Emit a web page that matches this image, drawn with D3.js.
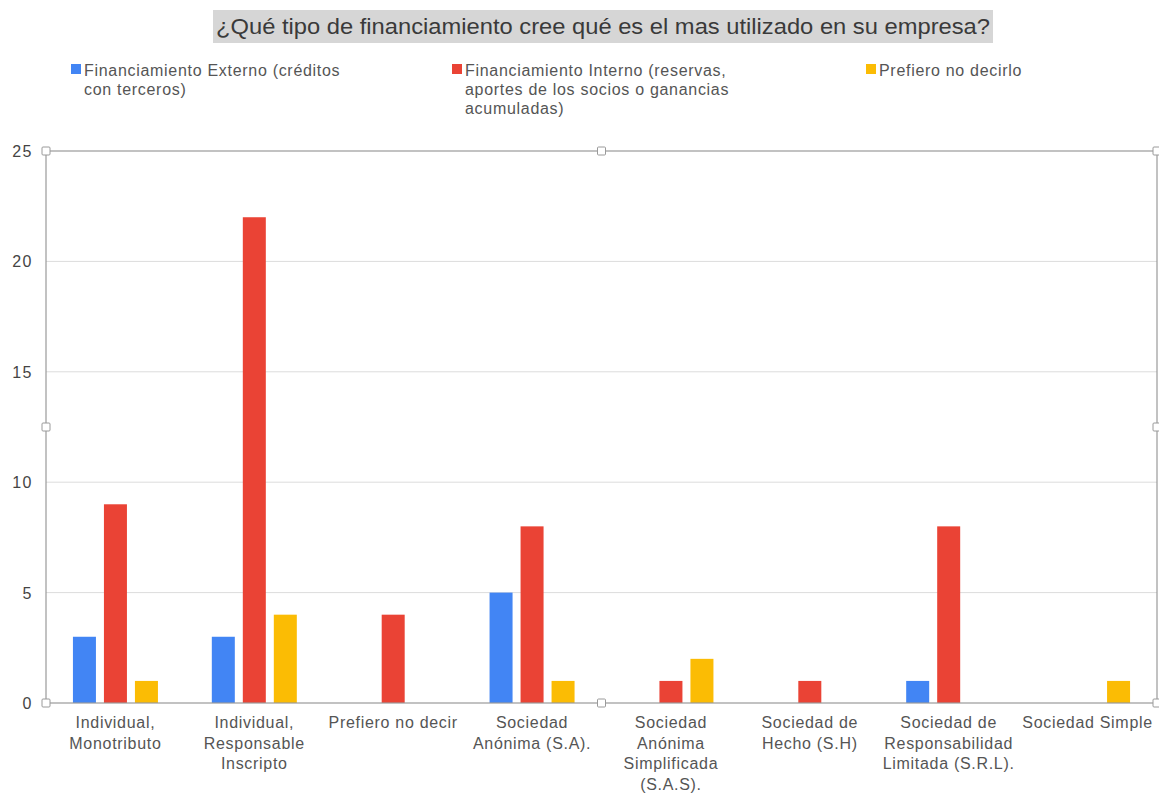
<!DOCTYPE html>
<html>
<head>
<meta charset="utf-8">
<script src="https://cdn.jsdelivr.net/npm/d3@7"></script>
<style>
  body { margin: 0; background: #fff; }
  svg { display: block; font-family: "Liberation Sans", Arial, sans-serif; }
</style>
</head>
<body>
<div id="chart"></div>
<script>
const categories = [
  ["Individual,", "Monotributo"],
  ["Individual,", "Responsable", "Inscripto"],
  ["Prefiero no decir"],
  ["Sociedad", "Anónima (S.A)."],
  ["Sociedad", "Anónima", "Simplificada", "(S.A.S)."],
  ["Sociedad de", "Hecho (S.H)"],
  ["Sociedad de", "Responsabilidad", "Limitada (S.R.L)."],
  ["Sociedad Simple"]
];
const seriesNames = [
  ["Financiamiento Externo (créditos", "con terceros)"],
  ["Financiamiento Interno (reservas,", "aportes de los socios o ganancias", "acumuladas)"],
  ["Prefiero no decirlo"]
];
const externo = [3, 3, 0, 5, 0, 0, 1, 0];
const interno = [9, 22, 4, 8, 1, 1, 8, 0];
const prefiero = [1, 4, 0, 1, 2, 0, 0, 1];
const yTicks = [0, 5, 10, 15, 20, 25];
const colors = ["#4285f4", "#ea4335", "#fbbc04"];

const W = 1159, H = 793;
const plotL = 46, plotR = 1157, plotT = 151, plotB = 703;

const svg = d3.select("#chart").append("svg")
  .attr("width", W).attr("height", H);

// title
const titleG = svg.append("g");
titleG.append("rect")
  .attr("x", 213).attr("y", 10).attr("width", 780).attr("height", 33)
  .attr("fill", "#d6d6d6");
titleG.append("text")
  .attr("x", 603).attr("y", 34)
  .attr("text-anchor", "middle")
  .attr("font-size", 22)
  .attr("fill", "#3a3a3a")
  .attr("textLength", 774).attr("lengthAdjust", "spacingAndGlyphs")
  .text("¿Qué tipo de financiamiento cree qué es el mas utilizado en su empresa?");

// legend
const legendX = [71, 452, 866];
const legend = svg.append("g").selectAll("g").data(seriesNames).enter().append("g")
  .attr("transform", (d, i) => `translate(${legendX[i]}, 64)`);
legend.append("rect").attr("width", 10).attr("height", 10)
  .attr("fill", (d, i) => colors[i]);
legend.append("text")
  .attr("font-size", 16).attr("fill", "#555")
  .attr("letter-spacing", 0.7)
  .selectAll("tspan").data(d => d).enter().append("tspan")
  .attr("x", 13).attr("y", (d, i) => 12 + i * 19)
  .text(d => d);

// scales
const y = d3.scaleLinear().domain([0, 25]).range([plotB, plotT]);
const x0 = d3.scaleBand().domain(d3.range(categories.length)).range([plotL, plotR]);
const barW = 23, gap = 8;

// gridlines
svg.append("g").selectAll("line").data(yTicks.filter(t => t > 0 && t < 25)).enter()
  .append("line")
  .attr("x1", plotL).attr("x2", plotR)
  .attr("y1", d => y(d)).attr("y2", d => y(d))
  .attr("stroke", "#dcdcdc");

// y tick labels
svg.append("g").selectAll("text").data(yTicks).enter().append("text")
  .attr("x", 33).attr("y", d => y(d) + 6)
  .attr("text-anchor", "end")
  .attr("font-size", 16).attr("fill", "#444")
  .attr("letter-spacing", 1.5)
  .text(d => d);

// bars
const data = [externo, interno, prefiero];
const groups = svg.append("g");
data.forEach((vals, s) => {
  groups.append("g").selectAll("rect").data(vals).enter().append("rect")
    .attr("x", (d, i) => x0(i) + x0.bandwidth() / 2 + (s - 1) * (barW + gap) - barW / 2)
    .attr("y", d => y(d))
    .attr("width", barW)
    .attr("height", d => plotB - y(d))
    .attr("fill", colors[s]);
});

// frame
svg.append("rect")
  .attr("x", plotL).attr("y", plotT).attr("width", plotR - plotL).attr("height", plotB - plotT)
  .attr("fill", "none").attr("stroke", "#9a9a9a").attr("stroke-width", 1.2);

// handles
const hx = [plotL, (plotL + plotR) / 2, plotR];
const hy = [plotT, (plotT + plotB) / 2, plotB];
const handles = [];
hx.forEach(a => hy.forEach(b => { if (!(a === hx[1] && b === hy[1])) handles.push([a, b]); }));
svg.append("g").selectAll("rect").data(handles).enter().append("rect")
  .attr("x", d => d[0] - 4).attr("y", d => d[1] - 4)
  .attr("width", 8).attr("height", 8).attr("rx", 1)
  .attr("fill", "#fff").attr("stroke", "#9a9a9a");

// x labels
const xl = svg.append("g").selectAll("text").data(categories).enter().append("text")
  .attr("text-anchor", "middle")
  .attr("font-size", 16).attr("fill", "#555")
  .attr("letter-spacing", 0.7);
xl.selectAll("tspan").data((d, i) => d.map(t => [t, i])).enter().append("tspan")
  .attr("x", d => x0(d[1]) + x0.bandwidth() / 2)
  .attr("y", (d, j) => 728 + j * 20.7)
  .text(d => d[0]);
</script>
</body>
</html>
